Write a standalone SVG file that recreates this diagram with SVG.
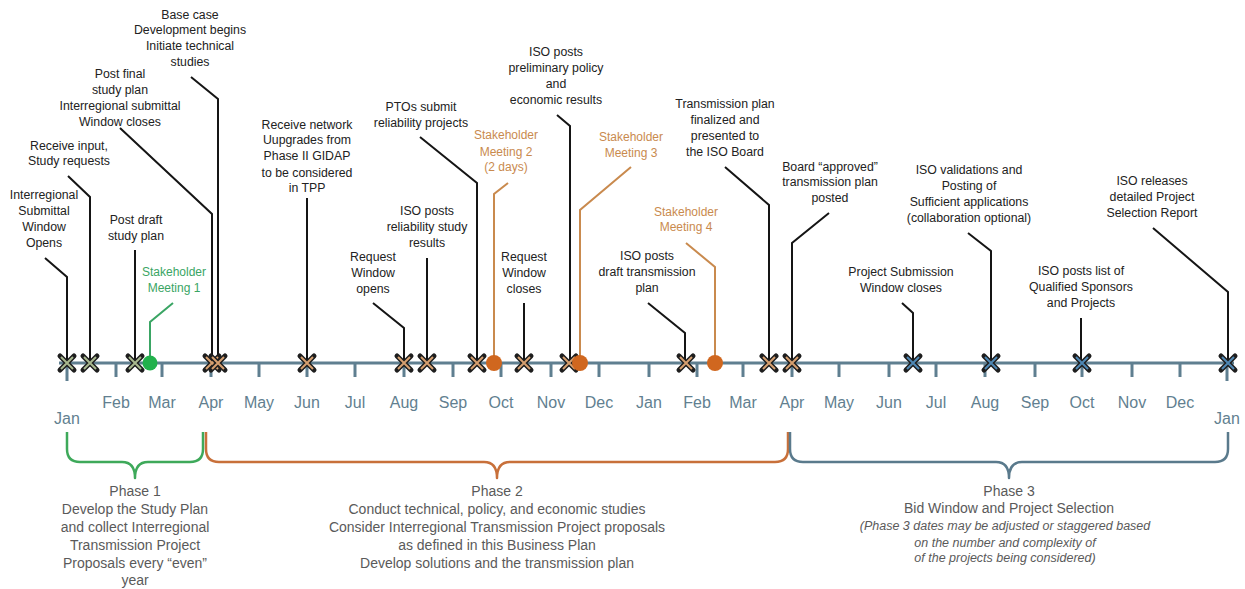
<svg xmlns="http://www.w3.org/2000/svg" xmlns:xlink="http://www.w3.org/1999/xlink" width="1245" height="589" viewBox="0 0 1245 589">
<style>
text{font-family:"Liberation Sans",Arial,sans-serif;text-anchor:middle}
.lbl{font-size:12.3px;fill:#222}
.sg{font-size:12px;fill:#3aa564}
.so{font-size:12px;fill:#c98a4e}
.mon{font-size:16px;fill:#627f90}
.ph{font-size:14px;fill:#5a5a5a}
.it{font-size:12.5px;fill:#5a5a5a;font-style:italic}
.ld{fill:none;stroke:#151515;stroke-width:2}
.lg{fill:none;stroke:#3aa564;stroke-width:2}
.lo{fill:none;stroke:#c98a4e;stroke-width:2}
.tick{stroke:#5f7f90;stroke-width:3}
.br{fill:none;stroke-width:2.5;stroke-linejoin:round}
</style>
<defs>
<g id="xo"><path d="M-7,-7L7,7M7,-7L-7,7" stroke="#1e1e1e" stroke-width="5" stroke-linecap="round"/></g>
<g id="x1"><use xlink:href="#xo"/><path d="M-6,-6L6,6M6,-6L-6,6" stroke="#a9b98f" stroke-width="2"/></g>
<g id="x2"><use xlink:href="#xo"/><path d="M-6,-6L6,6M6,-6L-6,6" stroke="#d6a070" stroke-width="2"/></g>
<g id="x3"><use xlink:href="#xo"/><path d="M-6,-6L6,6M6,-6L-6,6" stroke="#4f88b4" stroke-width="2"/></g>
</defs>
<rect width="1245" height="589" fill="#fff"/>

<g id="axis">
<line x1="59" y1="363" x2="1234" y2="363" stroke="#5f7f90" stroke-width="3"/>
<line class="tick" x1="67" y1="363" x2="67" y2="381"/>
<line class="tick" x1="116" y1="363" x2="116" y2="377"/>
<line class="tick" x1="162" y1="363" x2="162" y2="377"/>
<line class="tick" x1="211" y1="363" x2="211" y2="377"/>
<line class="tick" x1="259" y1="363" x2="259" y2="377"/>
<line class="tick" x1="307" y1="363" x2="307" y2="377"/>
<line class="tick" x1="355" y1="363" x2="355" y2="377"/>
<line class="tick" x1="404" y1="363" x2="404" y2="377"/>
<line class="tick" x1="453" y1="363" x2="453" y2="377"/>
<line class="tick" x1="501" y1="363" x2="501" y2="377"/>
<line class="tick" x1="551" y1="363" x2="551" y2="377"/>
<line class="tick" x1="599" y1="363" x2="599" y2="377"/>
<line class="tick" x1="649" y1="363" x2="649" y2="377"/>
<line class="tick" x1="697" y1="363" x2="697" y2="377"/>
<line class="tick" x1="743" y1="363" x2="743" y2="377"/>
<line class="tick" x1="792" y1="363" x2="792" y2="377"/>
<line class="tick" x1="839" y1="363" x2="839" y2="377"/>
<line class="tick" x1="889" y1="363" x2="889" y2="377"/>
<line class="tick" x1="936" y1="363" x2="936" y2="377"/>
<line class="tick" x1="985" y1="363" x2="985" y2="377"/>
<line class="tick" x1="1035" y1="363" x2="1035" y2="377"/>
<line class="tick" x1="1082" y1="363" x2="1082" y2="377"/>
<line class="tick" x1="1132" y1="363" x2="1132" y2="377"/>
<line class="tick" x1="1180" y1="363" x2="1180" y2="377"/>
<line class="tick" x1="1227" y1="363" x2="1227" y2="381"/>
<text class="mon" x="67" y="424">Jan</text>
<text class="mon" x="116" y="408">Feb</text>
<text class="mon" x="162" y="408">Mar</text>
<text class="mon" x="211" y="408">Apr</text>
<text class="mon" x="259" y="408">May</text>
<text class="mon" x="307" y="408">Jun</text>
<text class="mon" x="355" y="408">Jul</text>
<text class="mon" x="404" y="408">Aug</text>
<text class="mon" x="453" y="408">Sep</text>
<text class="mon" x="501" y="408">Oct</text>
<text class="mon" x="551" y="408">Nov</text>
<text class="mon" x="599" y="408">Dec</text>
<text class="mon" x="649" y="408">Jan</text>
<text class="mon" x="697" y="408">Feb</text>
<text class="mon" x="743" y="408">Mar</text>
<text class="mon" x="792" y="408">Apr</text>
<text class="mon" x="839" y="408">May</text>
<text class="mon" x="889" y="408">Jun</text>
<text class="mon" x="936" y="408">Jul</text>
<text class="mon" x="985" y="408">Aug</text>
<text class="mon" x="1035" y="408">Sep</text>
<text class="mon" x="1082" y="408">Oct</text>
<text class="mon" x="1132" y="408">Nov</text>
<text class="mon" x="1180" y="408">Dec</text>
<text class="mon" x="1227" y="424">Jan</text>
</g>

<g id="connectors">
<polyline class="ld" points="45,258 67,277 67,363"/>
<polyline class="ld" points="68,176 90,197 90,363"/>
<polyline class="ld" points="135,250 135,363"/>
<polyline class="lg" points="173,303 150,322 150,363"/>
<polyline class="ld" points="120,128 212,214 212,363"/>
<polyline class="ld" points="191,77 218,99 218,363"/>
<polyline class="ld" points="307,198 307,363"/>
<polyline class="ld" points="373,303 404,328 404,363"/>
<polyline class="ld" points="427,258 427,363"/>
<polyline class="ld" points="420,137 477,183 477,363"/>
<polyline class="lo" points="508,183 494,194 494,363"/>
<polyline class="ld" points="524,303 524,363"/>
<polyline class="ld" points="557,115 570,126 570,363"/>
<polyline class="lo" points="631,167 580,210 580,363"/>
<polyline class="ld" points="648,303 685,333 685,363"/>
<polyline class="lo" points="686,243 715,267 715,363"/>
<polyline class="ld" points="725,167 769,205 769,363"/>
<polyline class="ld" points="829,213 792,243 792,363"/>
<polyline class="ld" points="902,303 913,313 913,363"/>
<polyline class="ld" points="968,233 991,251 991,363"/>
<polyline class="ld" points="1081,318 1081,363"/>
<polyline class="ld" points="1153,228 1228,292 1228,363"/>
</g>

<g id="n-submittal-opens">
<text class="lbl"><tspan x="44" y="199">Interregional</tspan><tspan x="44" y="215">Submittal</tspan><tspan x="44" y="231">Window</tspan><tspan x="44" y="247">Opens</tspan></text>
<use xlink:href="#x1" x="67" y="363"/>
</g>
<g id="n-receive-input">
<text class="lbl"><tspan x="69" y="150">Receive input,</tspan><tspan x="69" y="165">Study requests</tspan></text>
<use xlink:href="#x1" x="90" y="363"/>
</g>
<g id="n-post-draft">
<text class="lbl"><tspan x="136" y="224">Post draft</tspan><tspan x="136" y="240">study plan</tspan></text>
<use xlink:href="#x1" x="135" y="363"/>
</g>
<g id="n-sm1">
<text class="sg"><tspan x="174" y="276">Stakeholder</tspan><tspan x="174" y="292">Meeting 1</tspan></text>
<circle cx="150" cy="363" r="7.5" fill="#22b14c"/>
</g>
<g id="n-post-final">
<text class="lbl"><tspan x="120" y="78">Post final</tspan><tspan x="120" y="94">study plan</tspan><tspan x="120" y="110">Interregional submittal</tspan><tspan x="120" y="126">Window closes</tspan></text>
<use xlink:href="#x2" x="212" y="363"/>
</g>
<g id="n-base-case">
<text class="lbl"><tspan x="190" y="19">Base case</tspan><tspan x="190" y="34">Development begins</tspan><tspan x="190" y="50">Initiate technical</tspan><tspan x="190" y="66">studies</tspan></text>
<use xlink:href="#x2" x="218" y="363"/>
</g>
<g id="n-network">
<text class="lbl"><tspan x="307" y="129">Receive network</tspan><tspan x="307" y="144">Uupgrades from</tspan><tspan x="307" y="160">Phase II GIDAP</tspan><tspan x="307" y="177">to be considered</tspan><tspan x="307" y="192">in TPP</tspan></text>
<use xlink:href="#x2" x="307" y="363"/>
</g>
<g id="n-req-open">
<text class="lbl"><tspan x="373" y="261">Request</tspan><tspan x="373" y="277">Window</tspan><tspan x="373" y="293">opens</tspan></text>
<use xlink:href="#x2" x="404" y="363"/>
</g>
<g id="n-reliability-results">
<text class="lbl"><tspan x="427" y="215">ISO posts</tspan><tspan x="427" y="231">reliability study</tspan><tspan x="427" y="247">results</tspan></text>
<use xlink:href="#x2" x="427" y="363"/>
</g>
<g id="n-ptos">
<text class="lbl"><tspan x="421" y="111">PTOs submit</tspan><tspan x="421" y="127">reliability projects</tspan></text>
<use xlink:href="#x2" x="477" y="363"/>
</g>
<g id="n-sm2">
<text class="so"><tspan x="506" y="139">Stakeholder</tspan><tspan x="506" y="156">Meeting 2</tspan><tspan x="506" y="171">(2 days)</tspan></text>
<circle cx="494" cy="363" r="8" fill="#d0671f"/>
</g>
<g id="n-req-close">
<text class="lbl"><tspan x="524" y="261">Request</tspan><tspan x="524" y="277">Window</tspan><tspan x="524" y="293">closes</tspan></text>
<use xlink:href="#x2" x="524" y="363"/>
</g>
<g id="n-prelim">
<text class="lbl"><tspan x="556" y="56">ISO posts</tspan><tspan x="556" y="72">preliminary policy</tspan><tspan x="556" y="88">and</tspan><tspan x="556" y="104">economic results</tspan></text>
<use xlink:href="#x2" x="569" y="363"/>
</g>
<g id="n-sm3">
<text class="so"><tspan x="631" y="141">Stakeholder</tspan><tspan x="631" y="157">Meeting 3</tspan></text>
<circle cx="580" cy="363" r="8" fill="#d0671f"/>
</g>
<g id="n-draft-plan">
<text class="lbl"><tspan x="647" y="260">ISO posts</tspan><tspan x="647" y="276">draft transmission</tspan><tspan x="647" y="292">plan</tspan></text>
<use xlink:href="#x2" x="686" y="363"/>
</g>
<g id="n-sm4">
<text class="so"><tspan x="686" y="216">Stakeholder</tspan><tspan x="686" y="231">Meeting 4</tspan></text>
<circle cx="715" cy="363" r="8" fill="#d0671f"/>
</g>
<g id="n-plan-final">
<text class="lbl"><tspan x="725" y="108">Transmission plan</tspan><tspan x="725" y="124">finalized and</tspan><tspan x="725" y="140">presented to</tspan><tspan x="725" y="156">the ISO Board</tspan></text>
<use xlink:href="#x2" x="769" y="363"/>
</g>
<g id="n-approved">
<text class="lbl"><tspan x="830" y="171">Board “approved”</tspan><tspan x="830" y="186">transmission plan</tspan><tspan x="830" y="202">posted</tspan></text>
<use xlink:href="#x2" x="792" y="363"/>
</g>
<g id="n-submission-closes">
<text class="lbl"><tspan x="901" y="276">Project Submission</tspan><tspan x="901" y="292">Window closes</tspan></text>
<use xlink:href="#x3" x="913" y="363"/>
</g>
<g id="n-validations">
<text class="lbl"><tspan x="969" y="174">ISO validations and</tspan><tspan x="969" y="190">Posting of</tspan><tspan x="969" y="206">Sufficient applications</tspan><tspan x="969" y="222">(collaboration optional)</tspan></text>
<use xlink:href="#x3" x="991" y="363"/>
</g>
<g id="n-qualified">
<text class="lbl"><tspan x="1081" y="275">ISO posts list of</tspan><tspan x="1081" y="291">Qualified Sponsors</tspan><tspan x="1081" y="307">and Projects</tspan></text>
<use xlink:href="#x3" x="1082" y="363"/>
</g>
<g id="n-report">
<text class="lbl"><tspan x="1152" y="185">ISO releases</tspan><tspan x="1152" y="201">detailed Project</tspan><tspan x="1152" y="217">Selection Report</tspan></text>
<use xlink:href="#x3" x="1228" y="363"/>
</g>

<g id="phase1">
<path class="br" stroke="#3ea95a" d="M67,432V449Q67,462 80,462H122Q135,462 135,478Q135,462 148,462H190Q203,462 203,449V432"/>
<text class="ph"><tspan x="135" y="496">Phase 1</tspan><tspan x="135" y="514">Develop the Study Plan</tspan><tspan x="135" y="532">and collect Interregional</tspan><tspan x="135" y="550">Transmission Project</tspan><tspan x="135" y="568">Proposals every “even”</tspan><tspan x="135" y="585">year</tspan></text>
</g>
<g id="phase2">
<path class="br" stroke="#c8703a" d="M206,432V449Q206,462 219,462H484Q497,462 497,478Q497,462 510,462H775Q788,462 788,449V432"/>
<text class="ph"><tspan x="497" y="496">Phase 2</tspan><tspan x="497" y="514">Conduct technical, policy, and economic studies</tspan><tspan x="497" y="532">Consider Interregional Transmission Project proposals</tspan><tspan x="497" y="550">as defined in this Business Plan</tspan><tspan x="497" y="568">Develop solutions and the transmission plan</tspan></text>
</g>
<g id="phase3">
<path class="br" stroke="#5a7a8c" d="M790,432V449Q790,462 803,462H996Q1009,462 1009,478Q1009,462 1022,462H1215Q1228,462 1228,449V432"/>
<text class="ph"><tspan x="1009" y="496">Phase 3</tspan><tspan x="1009" y="513">Bid Window and Project Selection</tspan></text>
<text class="it"><tspan x="1005" y="530">(Phase 3 dates may be adjusted or staggered based</tspan><tspan x="1005" y="547">on the number and complexity of</tspan><tspan x="1005" y="562">of the projects being considered)</tspan></text>
</g>
</svg>
